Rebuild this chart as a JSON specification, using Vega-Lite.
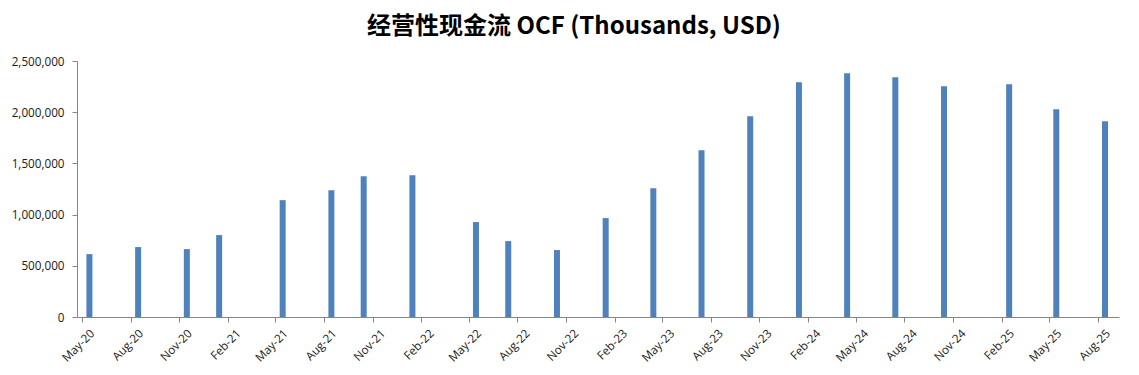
{
  "$schema": "https://vega.github.io/schema/vega-lite/v6.json",
  "width": 1042,
  "height": 256,
  "autosize": {"type": "none"},
  "padding": {"left": 77, "top": 61, "right": 20, "bottom": 58},
  "background": "white",
  "title": {
    "text": "经营性现金流 OCF (Thousands, USD)",
    "font": "Noto Sans CJK SC",
    "fontSize": 24,
    "fontWeight": "bold",
    "color": "#000000",
    "anchor": "middle",
    "dx": -24,
    "offset": 17
  },
  "config": {
    "view": {"stroke": null},
    "axis": {
      "labelFont": "Open Sans",
      "labelFontSize": 11.7,
      "labelColor": "#1a1a1a",
      "domainColor": "#868686",
      "tickColor": "#868686",
      "grid": false,
      "title": null
    }
  },
  "data": {
    "values": [
      {"date": "2020-05-15", "ocf": 614000},
      {"date": "2020-08-15", "ocf": 683000},
      {"date": "2020-11-15", "ocf": 663000},
      {"date": "2021-01-15", "ocf": 800000},
      {"date": "2021-05-15", "ocf": 1141000},
      {"date": "2021-08-15", "ocf": 1239000},
      {"date": "2021-10-15", "ocf": 1375000},
      {"date": "2022-01-15", "ocf": 1385000},
      {"date": "2022-05-15", "ocf": 927000},
      {"date": "2022-07-15", "ocf": 741000},
      {"date": "2022-10-15", "ocf": 654000},
      {"date": "2023-01-15", "ocf": 966000},
      {"date": "2023-04-15", "ocf": 1258000},
      {"date": "2023-07-15", "ocf": 1629000},
      {"date": "2023-10-15", "ocf": 1961000},
      {"date": "2024-01-15", "ocf": 2292000},
      {"date": "2024-04-15", "ocf": 2380000},
      {"date": "2024-07-15", "ocf": 2341000},
      {"date": "2024-10-15", "ocf": 2253000},
      {"date": "2025-02-15", "ocf": 2273000},
      {"date": "2025-05-15", "ocf": 2029000},
      {"date": "2025-08-15", "ocf": 1912000}
    ]
  },
  "mark": {"type": "bar", "width": 6, "color": "#4f81bd"},
  "encoding": {
    "x": {
      "field": "date",
      "type": "temporal",
      "scale": {
        "domain": [{"year": 2020, "month": 5, "date": 1}, {"year": 2025, "month": 9, "date": 1}],
        "nice": false
      },
      "axis": {
        "format": "%b-%y",
        "labelAngle": -45,
        "labelAlign": "right",
        "labelBaseline": "middle",
        "labelPadding": 9,
        "labelOffset": 10,
        "tickSize": 5,
        "labelOverlap": false,
        "values": [
          {"year": 2020, "month": 5, "date": 1},
          {"year": 2020, "month": 8, "date": 1},
          {"year": 2020, "month": 11, "date": 1},
          {"year": 2021, "month": 2, "date": 1},
          {"year": 2021, "month": 5, "date": 1},
          {"year": 2021, "month": 8, "date": 1},
          {"year": 2021, "month": 11, "date": 1},
          {"year": 2022, "month": 2, "date": 1},
          {"year": 2022, "month": 5, "date": 1},
          {"year": 2022, "month": 8, "date": 1},
          {"year": 2022, "month": 11, "date": 1},
          {"year": 2023, "month": 2, "date": 1},
          {"year": 2023, "month": 5, "date": 1},
          {"year": 2023, "month": 8, "date": 1},
          {"year": 2023, "month": 11, "date": 1},
          {"year": 2024, "month": 2, "date": 1},
          {"year": 2024, "month": 5, "date": 1},
          {"year": 2024, "month": 8, "date": 1},
          {"year": 2024, "month": 11, "date": 1},
          {"year": 2025, "month": 2, "date": 1},
          {"year": 2025, "month": 5, "date": 1},
          {"year": 2025, "month": 8, "date": 1}
        ]
      }
    },
    "y": {
      "field": "ocf",
      "type": "quantitative",
      "scale": {"domain": [0, 2500000], "nice": false},
      "axis": {
        "values": [0, 500000, 1000000, 1500000, 2000000, 2500000],
        "format": ",.0f",
        "tickSize": 5,
        "labelPadding": 8
      }
    }
  }
}
